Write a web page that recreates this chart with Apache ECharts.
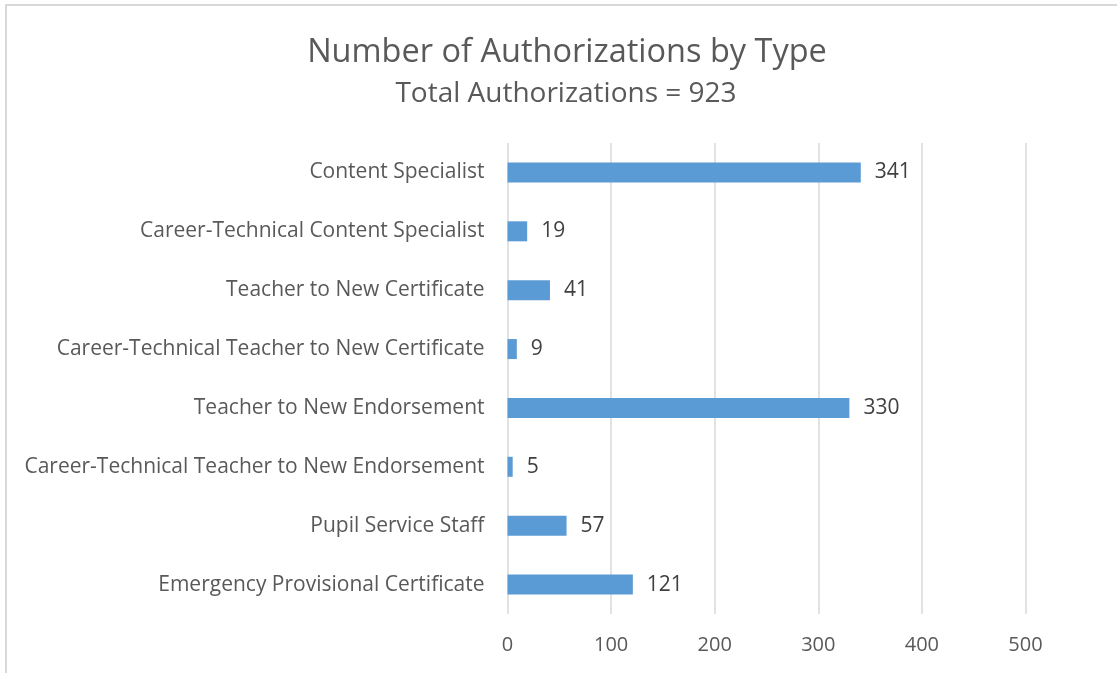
<!DOCTYPE html>
<html>
<head>
<meta charset="utf-8">
<script src="https://cdn.jsdelivr.net/npm/echarts@6/dist/echarts.min.js"></script>
<style>
  html, body { margin: 0; padding: 0; background: #fff; }
  #chart { width: 1117px; height: 673px; }
</style>
</head>
<body>
<div id="chart"></div>
<script>
  // categories listed top to bottom as in the picture
  var categories = [
    'Content Specialist',
    'Career-Technical Content Specialist',
    'Teacher to New Certificate',
    'Career-Technical Teacher to New Certificate',
    'Teacher to New Endorsement',
    'Career-Technical Teacher to New Endorsement',
    'Pupil Service Staff',
    'Emergency Provisional Certificate'
  ];
  var counts = [341, 19, 41, 9, 330, 5, 57, 121];
  var axisTicks = [0, 100, 200, 300, 400, 500];

  var font = '"Open Sans", "Liberation Sans", sans-serif';
  var myChart = echarts.init(document.getElementById('chart'));

  myChart.setOption({
    animation: false,
    textStyle: { fontFamily: font },
    graphic: [{
      type: 'rect',
      shape: { x: 6, y: 5, width: 1200, height: 700 },
      style: { fill: 'none', stroke: '#d9d9d9', lineWidth: 2 },
      silent: true
    }],
    title: [{
      text: 'Number of Authorizations by Type',
      left: 562, top: 31, textAlign: 'center',
      textStyle: { fontSize: 32.5, fontWeight: 'normal', color: '#595959', fontFamily: font }
    }, {
      text: 'Total Authorizations = 923',
      left: 561, top: 75, textAlign: 'center',
      textStyle: { fontSize: 28, fontWeight: 'normal', color: '#595959', fontFamily: font }
    }],
    grid: { left: 507.5, right: 91.5, top: 143, bottom: 59, containLabel: false },
    xAxis: {
      type: 'value',
      min: axisTicks[0],
      max: axisTicks[axisTicks.length - 1],
      interval: 100,
      axisLine: { show: false },
      axisTick: { show: false },
      axisLabel: { fontSize: 20, color: '#595959', margin: 21 },
      splitLine: { lineStyle: { color: '#d9d9d9', width: 1.5 } }
    },
    yAxis: {
      type: 'category',
      inverse: true,
      data: categories,
      axisLine: { show: false },
      axisTick: { show: false },
      axisLabel: { fontSize: 21, color: '#595959', margin: 23, padding: [5, 0, 0, 0] }
    },
    series: [{
      type: 'bar',
      data: counts,
      barWidth: '34%',
      itemStyle: { color: '#5b9bd5' },
      label: { show: true, position: 'right', distance: 14, fontSize: 21, color: '#404040', padding: [5, 0, 0, 0] }
    }]
  });
</script>
</body>
</html>
